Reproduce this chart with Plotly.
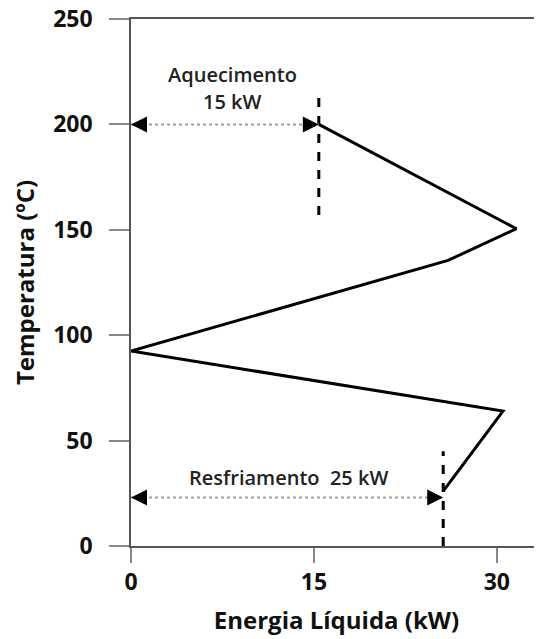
import plotly.graph_objects as go

# Grand composite curve data
energia = [15.4, 31.6, 26.0, 0.0, 30.5, 25.6]
temperatura = [200, 150.5, 135.5, 92.5, 64, 26]

# utility markers
aquec_x = 15.4
aquec_T = 200
aquec_dash = [157, 213]
resf_x = 25.6
resf_T = 23
resf_dash = [0, 45]

x_ticks = [0, 15, 30]
y_ticks = [0, 50, 100, 150, 200, 250]

FONT = "Open Sans"
fig = go.Figure()

fig.add_trace(go.Scatter(x=energia, y=temperatura, mode="lines",
                         line=dict(color="black", width=3), showlegend=False))
fig.add_trace(go.Scatter(x=[aquec_x, aquec_x], y=aquec_dash, mode="lines",
                         line=dict(color="black", width=3, dash="dash"), showlegend=False))
fig.add_trace(go.Scatter(x=[resf_x, resf_x], y=resf_dash, mode="lines",
                         line=dict(color="black", width=3, dash="dash"), showlegend=False))
# dotted arrows
for xe, T in [(aquec_x, aquec_T), (resf_x, resf_T)]:
    fig.add_trace(go.Scatter(x=[0, xe], y=[T, T], mode="lines",
                             line=dict(color="#a0a0a0", width=2, dash="dot"), showlegend=False))
    for tip, tail in [(0, 1.4), (xe, xe - 1.4)]:
        fig.add_annotation(x=tip, y=T, ax=tail, ay=T, xref="x", yref="y",
                           axref="x", ayref="y", showarrow=True, arrowhead=2,
                           arrowsize=1.6, arrowwidth=2, arrowcolor="black",
                           standoff=0, text="")

ann_font = dict(family=FONT, size=20, color="#222", weight=600)
fig.add_annotation(x=8.3, y=223.5, text="Aquecimento", showarrow=False, font=ann_font)
fig.add_annotation(x=8.3, y=211.0, text="15 kW", showarrow=False, font=ann_font)
fig.add_annotation(x=12.9, y=32.7, text="Resfriamento&nbsp;&nbsp;25 kW", showarrow=False,
                   font=ann_font)

# the page body adds an 8px offset, so margins are reduced by 8px
fig.update_layout(
    width=542, height=639,
    margin=dict(l=123, r=8, t=11, b=101),
    plot_bgcolor="white", paper_bgcolor="white",
    font=dict(family=FONT, color="#111"),
)
fig.update_xaxes(range=[0, 33.7], tickvals=x_ticks, showgrid=False, zeroline=False,
                 showline=True, linecolor="#555", linewidth=1.5, mirror=True,
                 automargin=False, ticklabeloverflow="allow",
                 ticks="outside", ticklen=15, tickcolor="#888", tickwidth=1.5,
                 tickfont=dict(family=FONT, size=23, weight="bold"),
                 title=dict(text="Energia Líquida (kW)", standoff=16,
                            font=dict(family=FONT, size=24, weight="bold")))
fig.update_yaxes(range=[0, 250], tickvals=y_ticks, showgrid=False, zeroline=False,
                 showline=True, linecolor="#555", linewidth=1.5,
                 automargin=False, ticklabelstandoff=12, ticklabeloverflow="allow",
                 ticks="outside", ticklen=20, tickcolor="#888", tickwidth=1.5,
                 tickfont=dict(family=FONT, size=23, weight="bold"),
                 title=dict(text="Temperatura (ºC)", standoff=12,
                            font=dict(family=FONT, size=24, weight="bold")))

fig.write_html("out.html")
